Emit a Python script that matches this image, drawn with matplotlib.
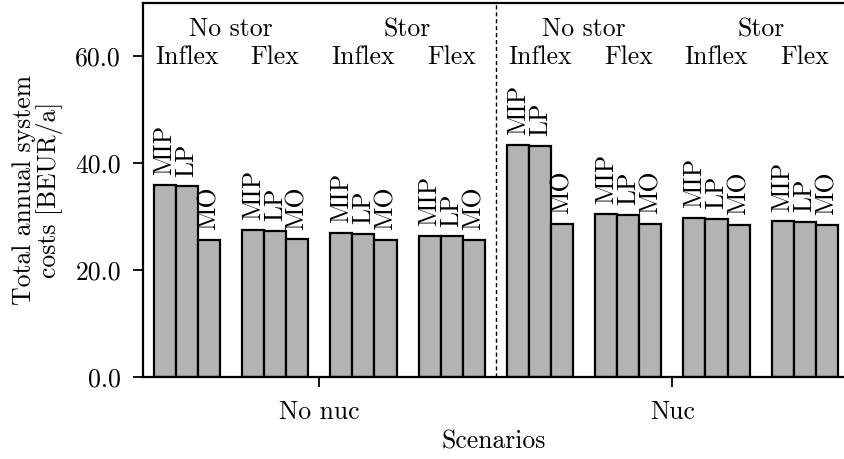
import matplotlib
matplotlib.use("Agg")
import matplotlib.pyplot as plt

plt.rcParams['font.family'] = ['cmr10', 'DejaVu Serif']
plt.rcParams['axes.formatter.use_mathtext'] = True
plt.rcParams['mathtext.fontset'] = 'cm'

# Scenario structure
nuclear = ["No nuc", "Nuc"]
storage = ["No stor", "Stor"]
flexibility = ["Inflex", "Flex"]
methods = ["MIP", "LP", "MO"]

# Total annual system costs [BEUR/a], one list per model type,
# ordered (nuc, stor, flex)
mip_costs = [35.9, 27.5, 27.0, 26.4, 43.4, 30.5, 29.8, 29.1]
lp_costs = [35.7, 27.3, 26.8, 26.3, 43.25, 30.3, 29.6, 29.0]
mo_costs = [25.6, 25.7, 25.6, 25.6, 28.6, 28.6, 28.4, 28.4]

yticks = [0, 20, 40, 60]
ytick_labels = ["0.0", "20.0", "40.0", "60.0"]

FS = 18.5

fig = plt.figure(figsize=(8.45, 4.59), dpi=100)
W, H = 845, 459
left, right, top, bottom = 142.7, 845.0, 3.0, 376.7
ax = fig.add_axes([left / W, 1 - bottom / H, (right - left) / W, (bottom - top) / H])

series = [mip_costs, lp_costs, mo_costs]
n_groups = len(mip_costs)
group_pitch = len(methods) + 1

for g in range(n_groups):
    for i, (name, vals) in enumerate(zip(methods, series)):
        x = g * group_pitch + i
        h = vals[g]
        ax.bar(x, h, width=1.0, color="#b3b3b3", edgecolor="black",
               linewidth=1.6, zorder=2)
        ax.text(x, h + 1.8, name, rotation=90, ha="center", va="bottom",
                fontsize=FS)

# Divider between the nuclear cases
half = n_groups // 2
ax.axvline(half * group_pitch - 1, color="black", linestyle=(0, (3, 2)),
           linewidth=1.0, zorder=1)

# Storage / flexibility headers
for n in range(len(nuclear)):
    for s in range(len(storage)):
        base = (n * 4 + s * 2) * group_pitch
        ax.text(base + group_pitch - 1, 63.8, storage[s], ha="center",
                va="baseline", fontsize=FS)
        for f in range(len(flexibility)):
            ax.text(base + f * group_pitch + 1, 58.6, flexibility[f],
                    ha="center", va="baseline", fontsize=FS)

ax.set_xlim(-1, -1 + (right - left) / 22.07)
ax.set_ylim(0, 70)
ax.set_yticks(yticks)
ax.set_yticklabels(ytick_labels, fontsize=FS)
ax.set_xticks([(half * group_pitch - 2) / 2,
               half * group_pitch + (half * group_pitch - 2) / 2])
ax.set_xticklabels(nuclear, fontsize=FS)
ax.tick_params(axis="both", direction="out", length=7.2, width=1.3)
ax.tick_params(axis="y", pad=8.5)
ax.tick_params(axis="x", pad=10)
for sp in ax.spines.values():
    sp.set_linewidth(1.6)
ax.spines["right"].set_visible(False)

ax.set_ylabel("Total annual system\ncosts [BEUR/a]", fontsize=FS,
              linespacing=1.0, labelpad=9)
ax.set_xlabel("Scenarios", fontsize=FS, labelpad=4)

fig.savefig("out.png", dpi=100)
